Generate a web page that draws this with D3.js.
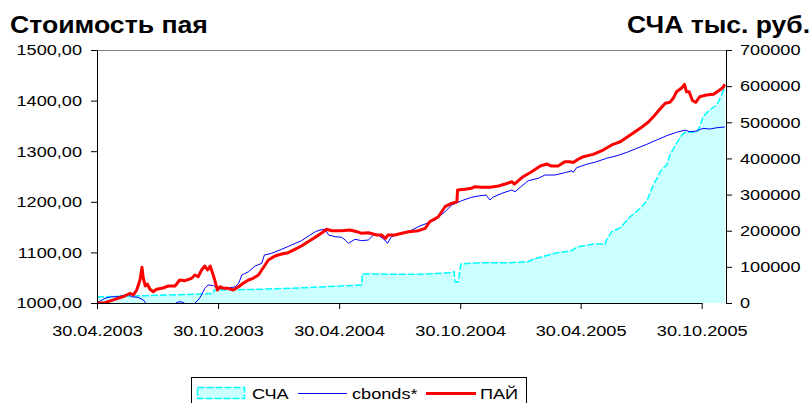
<!DOCTYPE html>
<html>
<head>
<meta charset="utf-8">
<script src="https://cdn.jsdelivr.net/npm/d3@7"></script>
<style>
  body { margin: 0; background: #fff; }
  svg { display: block; font-family: "Liberation Sans", Arial, sans-serif; }
</style>
</head>
<body>
<div id="chart"></div>
<script>
// ПАЙ - стоимость пая (левая ось)
const payDates = ["30.04.2003","12.05.2003","27.05.2003","11.06.2003","19.06.2003","24.06.2003","29.06.2003","04.07.2003","07.07.2003","09.07.2003","12.07.2003","15.07.2003","19.07.2003","24.07.2003","29.07.2003","06.08.2003","16.08.2003","26.08.2003","02.09.2003","10.09.2003","20.09.2003","25.09.2003","30.09.2003","05.10.2003","10.10.2003","14.10.2003","18.10.2003","21.10.2003","25.10.2003","29.10.2003","02.11.2003","07.11.2003","14.11.2003","22.11.2003","30.11.2003","07.12.2003","15.12.2003","22.12.2003","30.12.2003","04.01.2004","14.01.2004","24.01.2004","03.02.2004","13.02.2004","23.02.2004","04.03.2004","14.03.2004","25.03.2004","04.04.2004","11.04.2004","19.04.2004","04.05.2004","16.05.2004","27.05.2004","03.06.2004","13.06.2004","26.06.2004","03.07.2004","09.07.2004","13.07.2004","23.07.2004","03.08.2004","13.08.2004","28.08.2004","07.09.2004","14.09.2004","27.09.2004","07.10.2004","17.10.2004","25.10.2004","26.10.2004","06.11.2004","16.11.2004","21.11.2004","01.12.2004","14.12.2004","27.12.2004","06.01.2005","16.01.2005","20.01.2005","26.01.2005","02.02.2005","15.02.2005","28.02.2005","10.03.2005","17.03.2005","27.03.2005","06.04.2005","14.04.2005","19.04.2005","26.04.2005","04.05.2005","19.05.2005","03.06.2005","18.06.2005","29.06.2005","14.07.2005","29.07.2005","10.08.2005","18.08.2005","28.08.2005","05.09.2005","12.09.2005","17.09.2005","22.09.2005","30.09.2005","04.10.2005","07.10.2005","11.10.2005","16.10.2005","21.10.2005","27.10.2005","06.11.2005","17.11.2005","24.11.2005","01.12.2005","04.12.2005"];
const payValues = [1000.0,1000.6,1007.3,1013.8,1019.2,1015.8,1025.7,1045.4,1070.5,1048.8,1033.6,1037.5,1027.1,1022.3,1027.1,1029.0,1033.6,1033.6,1045.4,1044.1,1048.8,1055.3,1052.0,1065.2,1073.1,1065.2,1073.1,1061.8,1045.4,1025.7,1032.2,1029.0,1029.0,1025.7,1032.2,1038.9,1045.4,1048.8,1055.3,1065.2,1085.0,1092.9,1096.8,1099.4,1106.1,1112.6,1121.1,1129.8,1138.9,1145.6,1142.9,1142.9,1144.2,1140.9,1137.7,1138.9,1134.4,1134.4,1127.8,1134.4,1134.4,1137.7,1140.9,1142.9,1147.6,1160.7,1170.5,1190.3,1197.0,1200.2,1223.3,1224.7,1226.7,1229.8,1228.6,1228.6,1231.2,1235.1,1239.7,1235.1,1241.7,1249.6,1259.4,1270.7,1274.7,1270.7,1270.7,1279.2,1279.2,1277.6,1284.0,1289.1,1293.8,1302.3,1313.6,1318.7,1332.0,1345.2,1357.1,1368.1,1383.3,1394.6,1396.6,1404.5,1417.5,1425.4,1432.1,1417.5,1417.5,1400.1,1396.6,1407.6,1411.0,1412.4,1418.9,1425.4,1432.1];

// cbonds* (левая ось)
const cbondsDates = ["30.04.2003","12.05.2003","22.05.2003","01.06.2003","11.06.2003","16.06.2003","21.06.2003","01.07.2003","09.07.2003","14.07.2003","22.07.2003","03.08.2003","18.08.2003","29.08.2003","04.09.2003","10.09.2003","18.09.2003","25.09.2003","30.09.2003","05.10.2003","10.10.2003","15.10.2003","23.10.2003","29.10.2003","07.11.2003","14.11.2003","25.11.2003","30.11.2003","05.12.2003","15.12.2003","25.12.2003","04.01.2004","08.01.2004","19.01.2004","03.02.2004","18.02.2004","04.03.2004","17.03.2004","25.03.2004","01.04.2004","09.04.2004","14.04.2004","24.04.2004","04.05.2004","09.05.2004","14.05.2004","24.05.2004","03.06.2004","13.06.2004","21.06.2004","28.06.2004","08.07.2004","12.07.2004","18.07.2004","28.07.2004","08.08.2004","18.08.2004","30.08.2004","07.09.2004","22.09.2004","07.10.2004","17.10.2004","01.11.2004","16.11.2004","26.11.2004","08.12.2004","14.12.2004","18.12.2004","01.01.2005","16.01.2005","21.01.2005","31.01.2005","10.02.2005","25.02.2005","07.03.2005","22.03.2005","06.04.2005","17.04.2005","19.04.2005","24.04.2005","09.05.2005","24.05.2005","08.06.2005","24.06.2005","09.07.2005","24.07.2005","08.08.2005","23.08.2005","07.09.2005","22.09.2005","05.10.2005","12.10.2005","22.10.2005","01.11.2005","11.11.2005","22.11.2005","04.12.2005"];
const cbondsValues = [1000.0,1009.3,1012.4,1012.4,1015.8,1017.8,1012.4,1011.3,1005.9,998.0,986.0,982.0,990.0,1001.5,1002.5,999.0,989.0,1000.0,1005.9,1015.8,1029.0,1035.6,1034.6,1027.7,1029.0,1029.0,1032.2,1038.9,1055.3,1061.8,1073.1,1078.4,1094.8,1098.2,1106.1,1114.6,1123.1,1134.4,1140.9,1144.2,1145.6,1134.4,1131.0,1129.8,1124.5,1118.0,1125.9,1123.1,1124.5,1134.4,1134.4,1124.5,1118.0,1131.0,1135.8,1138.9,1144.2,1152.2,1156.1,1164.0,1180.4,1193.6,1202.1,1208.9,1211.4,1213.4,1203.5,1208.9,1216.8,1223.3,1219.9,1231.2,1241.7,1246.4,1252.9,1252.9,1257.5,1261.4,1258.3,1267.4,1274.1,1279.2,1285.9,1291.1,1297.8,1305.7,1313.6,1322.1,1330.6,1337.3,1341.8,1338.5,1339.9,1345.2,1343.8,1346.4,1347.8];

// СЧА, тыс. руб. (правая ось)
const schaDates = ["30.04.2003","12.07.2003","25.09.2003","23.10.2003","24.10.2003","01.01.2004","09.03.2004","03.06.2004","04.06.2004","30.08.2004","17.10.2004","21.10.2004","22.10.2004","27.10.2004","31.10.2004","01.12.2004","10.01.2005","09.02.2005","17.02.2005","22.03.2005","16.04.2005","26.04.2005","24.05.2005","06.06.2005","08.06.2005","16.06.2005","29.06.2005","14.07.2005","29.07.2005","08.08.2005","18.08.2005","26.08.2005","31.08.2005","07.09.2005","12.09.2005","22.09.2005","30.09.2005","05.10.2005","22.10.2005","27.10.2005","01.11.2005","11.11.2005","22.11.2005","29.11.2005","04.12.2005"];
const schaValues = [16600,20200,24100,26800,36000,37900,42300,49800,80200,79400,83800,86600,58900,58900,107900,111500,111500,114300,120900,137500,144700,155800,164100,162400,174300,197300,208400,238800,262000,282200,326500,354200,370800,381800,409500,441900,464900,472300,472300,487800,515500,534000,547900,575500,598500];

const xTicks = ["30.04.2003","30.10.2003","30.04.2004","30.10.2004","30.04.2005","30.10.2005"];
const leftTicks = [1000,1100,1200,1300,1400,1500];
const rightTicks = [0,100000,200000,300000,400000,500000,600000,700000];

const width = 811, height = 403;
const fs = 15, sx = 1.21;   // текст в оригинале растянут по горизонтали
const parse = d3.timeParse("%d.%m.%Y");

const x = d3.scaleTime().domain([parse("30.04.2003"), parse("30.10.2005")]).range([97, 701.7]);
const yL = d3.scaleLinear().domain([1000, 1500]).range([303, 50]);
const yR = d3.scaleLinear().domain([0, 700000]).range([303, 50]);

const pay = payDates.map((d, i) => ({date: parse(d), v: payValues[i]}));
const cbonds = cbondsDates.map((d, i) => ({date: parse(d), v: cbondsValues[i]}));
const scha = schaDates.map((d, i) => ({date: parse(d), v: schaValues[i]}));

const svg = d3.select("#chart").append("svg")
    .attr("width", width)
    .attr("height", height);

svg.append("defs").append("clipPath").attr("id", "plot")
  .append("rect").attr("x", 97).attr("y", 50).attr("width", 629).attr("height", 253);

// рамка сверху
svg.append("line")
    .attr("x1", 97).attr("x2", 726).attr("y1", 50.5).attr("y2", 50.5)
    .attr("stroke", "#808080");

const plot = svg.append("g").attr("clip-path", "url(#plot)");

plot.append("path")
    .datum(scha)
    .attr("fill", "#ccffff")
    .attr("d", d3.area().x(d => x(d.date)).y0(yR(0)).y1(d => yR(d.v)));

plot.append("path")
    .datum(scha)
    .attr("fill", "none")
    .attr("stroke", "#00ffff")
    .attr("stroke-width", 1.5)
    .attr("stroke-dasharray", "7,2")
    .attr("d", d3.line().x(d => x(d.date)).y(d => yR(d.v)));

plot.append("path")
    .datum(cbonds)
    .attr("fill", "none")
    .attr("stroke", "#0000ff")
    .attr("stroke-width", 1)
    .attr("d", d3.line().x(d => x(d.date)).y(d => yL(d.v)));

plot.append("path")
    .datum(pay)
    .attr("fill", "none")
    .attr("stroke", "#ff0000")
    .attr("stroke-width", 3)
    .attr("stroke-linejoin", "round")
    .attr("d", d3.line().x(d => x(d.date)).y(d => yL(d.v)));

// оси
const commaFmt = d => d3.format(".2f")(d).replace(".", ",");

const gl = svg.append("g").attr("transform", "translate(97,0)")
    .call(d3.axisLeft(yL).tickValues(leftTicks).tickSize(6).tickSizeOuter(0).tickFormat(commaFmt));
gl.selectAll("text").attr("x", -15 / sx).attr("transform", `scale(${sx},1)`);

const gr = svg.append("g").attr("transform", "translate(726,0)")
    .call(d3.axisRight(yR).tickValues(rightTicks).tickSize(6).tickSizeOuter(0).tickFormat(d3.format("d")));
gr.selectAll("text").attr("x", 14 / sx).attr("transform", `scale(${sx},1)`);

const gb = svg.append("g").attr("transform", "translate(0,303)")
    .call(d3.axisBottom(x).tickValues(xTicks.map(parse)).tickSize(6).tickSizeOuter(0)
      .tickFormat(d3.timeFormat("%d.%m.%Y")));
gb.selectAll("text").attr("y", 33).attr("dy", 0).attr("transform", `scale(${sx},1)`);

[gl, gr, gb].forEach(g => {
  g.attr("font-family", null).attr("font-size", null);
  g.selectAll("text").style("font-size", fs + "px").attr("fill", "#000");
  g.selectAll("line,path").attr("stroke", "#000");
});

// заголовки
function title(str, tx, anchor, targetW) {
  const t = svg.append("text")
      .attr("text-anchor", anchor)
      .style("font-size", "23.5px")
      .style("font-weight", "bold")
      .text(str);
  const w = t.node().getComputedTextLength();
  t.attr("transform", `translate(${tx},33) scale(${targetW / w},1)`);
}
title("Стоимость пая", 10, "start", 198);
title("СЧА тыс. руб.", 810, "end", 183);

// легенда
const lg = svg.append("g");
lg.append("rect")
    .attr("x", 191.5).attr("y", 377.5).attr("width", 335).attr("height", 40)
    .attr("fill", "#fff").attr("stroke", "#000");
lg.append("rect")
    .attr("x", 197.5).attr("y", 387.5).attr("width", 47).attr("height", 11)
    .attr("fill", "#ccffff").attr("stroke", "#00ffff").attr("stroke-width", 1.5)
    .attr("stroke-dasharray", "7,2");
lg.append("line").attr("x1", 298).attr("x2", 347).attr("y1", 393.5).attr("y2", 393.5)
    .attr("stroke", "#0000ff");
lg.append("line").attr("x1", 426).attr("x2", 476).attr("y1", 393.5).attr("y2", 393.5)
    .attr("stroke", "#ff0000").attr("stroke-width", 3);
const legendItems = [["СЧА", 252], ["cbonds*", 352], ["ПАЙ", 480]];
legendItems.forEach(([s, lx]) => {
  lg.append("text")
      .attr("transform", `translate(${lx},398.5) scale(${sx},1)`)
      .style("font-size", fs + "px")
      .text(s);
});
</script>
</body>
</html>
